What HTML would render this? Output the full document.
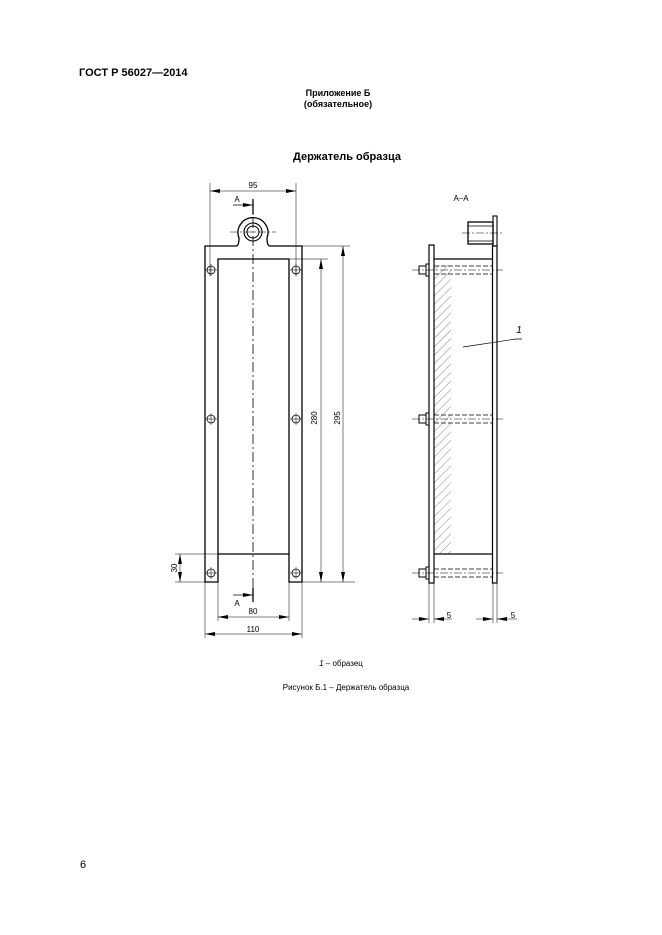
<!DOCTYPE html>
<html><head><meta charset="utf-8"><style>
body{margin:0;background:#fff;width:662px;height:935px;overflow:hidden}
svg{position:absolute;left:0;top:0}
text{font-family:"Liberation Sans",sans-serif;fill:#000}
</style></head><body>
<svg width="662" height="935" viewBox="0 0 662 935">
<defs>
<marker id="ar" viewBox="0 0 10 4" refX="10" refY="2" markerWidth="10" markerHeight="4" orient="auto-start-reverse" markerUnits="userSpaceOnUse"><path d="M0,0L10,2L0,4z" fill="#000"/></marker>
<pattern id="h" width="6" height="6" patternUnits="userSpaceOnUse" patternTransform="rotate(45)"><line x1="0" y1="0" x2="0" y2="6" stroke="#555" stroke-width="0.7"/></pattern>
</defs>
<text x="79" y="76" font-size="11" font-weight="bold">ГОСТ Р 56027—2014</text>
<text x="338" y="96" font-size="9" font-weight="bold" text-anchor="middle">Приложение Б</text>
<text x="338" y="107" font-size="9" font-weight="bold" text-anchor="middle">(обязательное)</text>
<text x="347" y="160" font-size="11" font-weight="bold" text-anchor="middle">Держатель образца</text>

<g stroke="#000" fill="none">
<path d="M205,582 V246 H236 Q239,246 239,238 A15,15 0 1 1 267,238 Q267,246 270,246 H302 V582 H289 V259 H218 V582 Z" stroke-width="1.3"/>
<line x1="218" y1="554" x2="289" y2="554" stroke-width="1.3"/>
<circle cx="253" cy="232" r="9" stroke-width="1.1"/>
<circle cx="253" cy="232" r="6" stroke-width="1"/>
<line x1="230" y1="232" x2="276" y2="232" stroke-width="0.5" stroke-dasharray="8,2,2,2"/>
<line x1="253" y1="200" x2="253" y2="600" stroke-width="0.8" stroke-dasharray="10,3,2,3"/>
<g stroke-width="0.8">
<circle cx="211" cy="270" r="4"/><circle cx="296" cy="270" r="4"/>
<circle cx="211" cy="419" r="4"/><circle cx="296" cy="419" r="4"/>
<circle cx="211" cy="573" r="4"/><circle cx="296" cy="573" r="4"/>
</g>
<g stroke-width="0.5">
<path d="M205,270h12M290,270h12M205,419h12M290,419h12M205,573h12M290,573h12M211,264v12M296,264v12M211,413v12M296,413v12M211,567v12M296,567v12"/>
<path d="M210,183V276M296,183V276"/>
<line x1="210" y1="191" x2="296" y2="191" marker-start="url(#ar)" marker-end="url(#ar)"/>
<path d="M289,259H328M302,246H350M302,582H355M175,554H218M175,582H205"/>
<line x1="321" y1="259" x2="321" y2="582" marker-start="url(#ar)" marker-end="url(#ar)"/>
<line x1="343" y1="246" x2="343" y2="582" marker-start="url(#ar)" marker-end="url(#ar)"/>
<line x1="180" y1="554" x2="180" y2="582" marker-start="url(#ar)" marker-end="url(#ar)"/>
<path d="M218,582V621M289,582V621M205,582V638M302,582V638"/>
<line x1="218" y1="617" x2="289" y2="617" marker-start="url(#ar)" marker-end="url(#ar)"/>
<line x1="205" y1="634" x2="302" y2="634" marker-start="url(#ar)" marker-end="url(#ar)"/>
</g>
<line x1="233" y1="205" x2="253" y2="205" stroke-width="0.8" marker-end="url(#ar)"/>
<line x1="253" y1="199" x2="253" y2="214" stroke-width="1.3"/>
<line x1="233" y1="595" x2="253" y2="595" stroke-width="0.8" marker-end="url(#ar)"/>
<line x1="253" y1="588" x2="253" y2="602" stroke-width="1.3"/>

<rect x="434" y="265" width="17" height="289" fill="url(#h)" stroke="none"/>
<rect x="429" y="245" width="5" height="338" stroke-width="1.2"/>
<rect x="492.5" y="246" width="4.5" height="337" stroke-width="1.2"/>
<rect x="493" y="216" width="4" height="30" stroke-width="1.1"/>
<rect x="468" y="222" width="25" height="22" stroke-width="1.3"/>
<line x1="468" y1="226" x2="493" y2="226" stroke-width="0.8"/>
<line x1="468" y1="241" x2="493" y2="241" stroke-width="0.8"/>
<line x1="462" y1="233" x2="503" y2="233" stroke-width="0.5" stroke-dasharray="8,2,2,2"/>
<line x1="434" y1="259" x2="493" y2="259" stroke-width="1.3"/>
<line x1="434" y1="554" x2="493" y2="554" stroke-width="1.3"/>
<g stroke-width="0.7">
<path d="M434,266H493M434,274H493M434,415H493M434,423H493M434,569H493M434,577H493" stroke-dasharray="5,2"/>
<path d="M412,270H503M412,419H503M412,573H503" stroke-dasharray="8,2,2,2" stroke-width="0.5"/>
</g>
<g stroke-width="1">
<rect x="419" y="266" width="7" height="8"/><rect x="426" y="264" width="3" height="12"/>
<rect x="419" y="415" width="7" height="8"/><rect x="426" y="413" width="3" height="12"/>
<rect x="419" y="569" width="7" height="8"/><rect x="426" y="567" width="3" height="12"/>
</g>
<path d="M463,347L516,339L522,339" stroke-width="0.7"/>
<g stroke-width="0.5">
<path d="M429,583V623M434,583V623M493,583V623M497,583V623"/>
<line x1="412" y1="619" x2="429" y2="619" marker-end="url(#ar)"/>
<line x1="452" y1="619" x2="434" y2="619" marker-end="url(#ar)"/>
<line x1="476" y1="619" x2="493" y2="619" marker-end="url(#ar)"/>
<line x1="517" y1="619" x2="497" y2="619" marker-end="url(#ar)"/>
</g>
</g>

<g font-size="8">
<text x="253" y="188" text-anchor="middle">95</text>
<text x="237" y="202" text-anchor="middle">A</text>
<text x="237" y="606" text-anchor="middle">A</text>
<text x="253" y="614" text-anchor="middle">80</text>
<text x="253" y="632" text-anchor="middle">110</text>
<text transform="translate(317,418) rotate(-90)" text-anchor="middle">280</text>
<text transform="translate(340,418) rotate(-90)" text-anchor="middle">295</text>
<text transform="translate(177,568) rotate(-90)" text-anchor="middle">30</text>
<text x="461" y="201" text-anchor="middle">А–А</text>
<text x="449" y="618" text-anchor="middle">5</text>
<text x="513" y="618" text-anchor="middle">5</text>
<text x="519" y="333" font-size="10" font-style="italic" text-anchor="middle">1</text>
<text x="341" y="666" text-anchor="middle"><tspan font-style="italic">1</tspan> – образец</text>
<text x="346" y="690" text-anchor="middle">Рисунок Б.1 – Держатель образца</text>
</g>
<text x="80" y="868" font-size="11">6</text>
</svg>
</body></html>
